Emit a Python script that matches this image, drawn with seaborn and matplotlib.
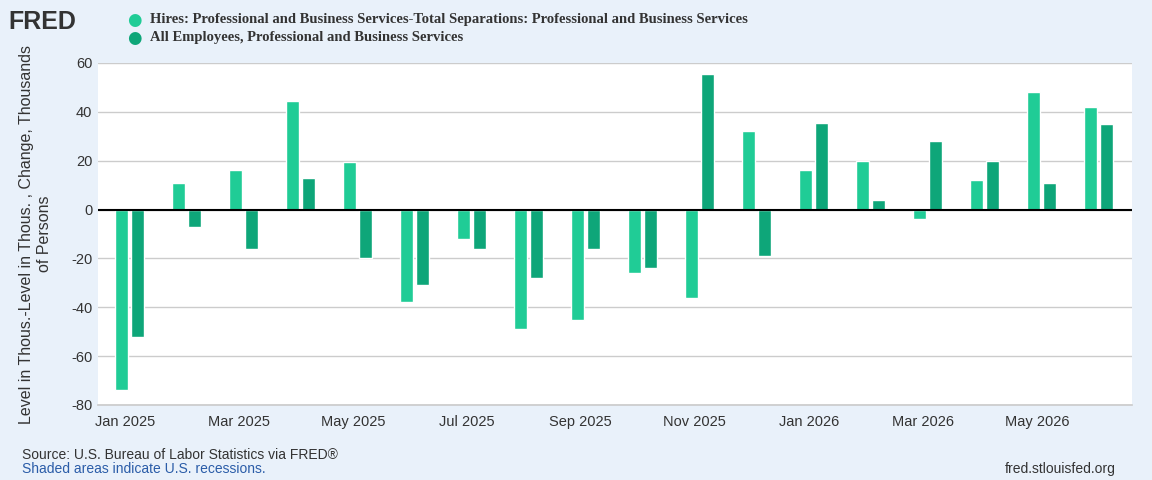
import matplotlib
matplotlib.use("Agg")
import matplotlib.pyplot as plt
import seaborn as sns
import numpy as np

months = ["Jan 2025","Feb 2025","Mar 2025","Apr 2025","May 2025","Jun 2025","Jul 2025","Aug 2025","Sep 2025",
          "Oct 2025","Nov 2025","Dec 2025","Jan 2026","Feb 2026","Mar 2026","Apr 2026","May 2026","Jun 2026"]
hires_minus_seps = [-74, 11, 16, 44.5, 19.5, -38, -12, -49, -45, -26, -36, 32, 16, 20, -4, 12, 48, 42]
all_employees = [-52, -7, -16, 13, -20, -31, -16, -28, -16, -24, 55.5, -19, 35.5, 4, 28, 20, 11, 35]
tick_labels = ["Jan 2025","Mar 2025","May 2025","Jul 2025","Sep 2025","Nov 2025","Jan 2026","Mar 2026","May 2026"]

sns.set_theme(style="white")
plt.rcParams['font.family'] = ['Liberation Sans', 'DejaVu Sans']
plt.rcParams['axes.unicode_minus'] = False
bg = "#e9f1fa"
c1, c2 = "#20cc96", "#0ea679"
fig = plt.figure(figsize=(11.52, 4.8), dpi=100, facecolor=bg)
ax = fig.add_axes([98/1152, 1-405/480, (1132-98)/1152, (405-63)/480])
ax.set_facecolor("white")
x = np.arange(len(months))
ax.bar(x - 0.06, hires_minus_seps, width=0.23, color=c1, zorder=2)
ax.bar(x + 0.22, all_employees, width=0.23, color=c2, zorder=2)
ax.set_xlim(-0.47, 17.67)
ax.set_ylim(-80, 60)
ax.set_yticks(range(-80, 61, 20))
ax.yaxis.grid(True, color="#cccccc", lw=1, zorder=0)
ax.axhline(0, color="black", lw=1.5, zorder=3)
ax.set_xticks(x[::2])
ax.set_xticklabels(tick_labels)
ax.tick_params(axis='both', labelsize=10.5, colors="#333333", length=0, pad=4)
ax.tick_params(axis='x', length=5, color="#333333", pad=2)
for s in ax.spines.values():
    s.set_visible(False)
ax.spines['bottom'].set_visible(True)
ax.spines['bottom'].set_color("#cccccc")
ax.set_ylabel("Level in Thous.-Level in Thous. , Change, Thousands\nof Persons", fontsize=11.5, color="#333333", labelpad=14)

fig.text(8/1152, 1-22/480, "FRED", fontsize=18, fontweight="bold", color="#333333", va="center")
for i, (lab, c) in enumerate([("Hires: Professional and Business Services-Total Separations: Professional and Business Services", c1),
                               ("All Employees, Professional and Business Services", c2)]):
    yy = 1 - (20 + 18*i)/480
    fig.text(134/1152, yy, "●", fontsize=12, color=c, va="center", ha="center", family="DejaVu Sans")
    fig.text(150/1152, yy, lab, fontsize=10.5, fontweight="bold", family="Liberation Serif", color="#333333", va="center")
fig.text(22/1152, 1-455/480, "Source: U.S. Bureau of Labor Statistics via FRED®", fontsize=10, color="#333333", va="center")
fig.text(22/1152, 1-469/480, "Shaded areas indicate U.S. recessions.", fontsize=10, color="#2a5ca8", va="center")
fig.text(1116/1152, 1-469/480, "fred.stlouisfed.org", fontsize=10, color="#333333", va="center", ha="right")
fig.savefig("out.png", dpi=100, facecolor=bg)
